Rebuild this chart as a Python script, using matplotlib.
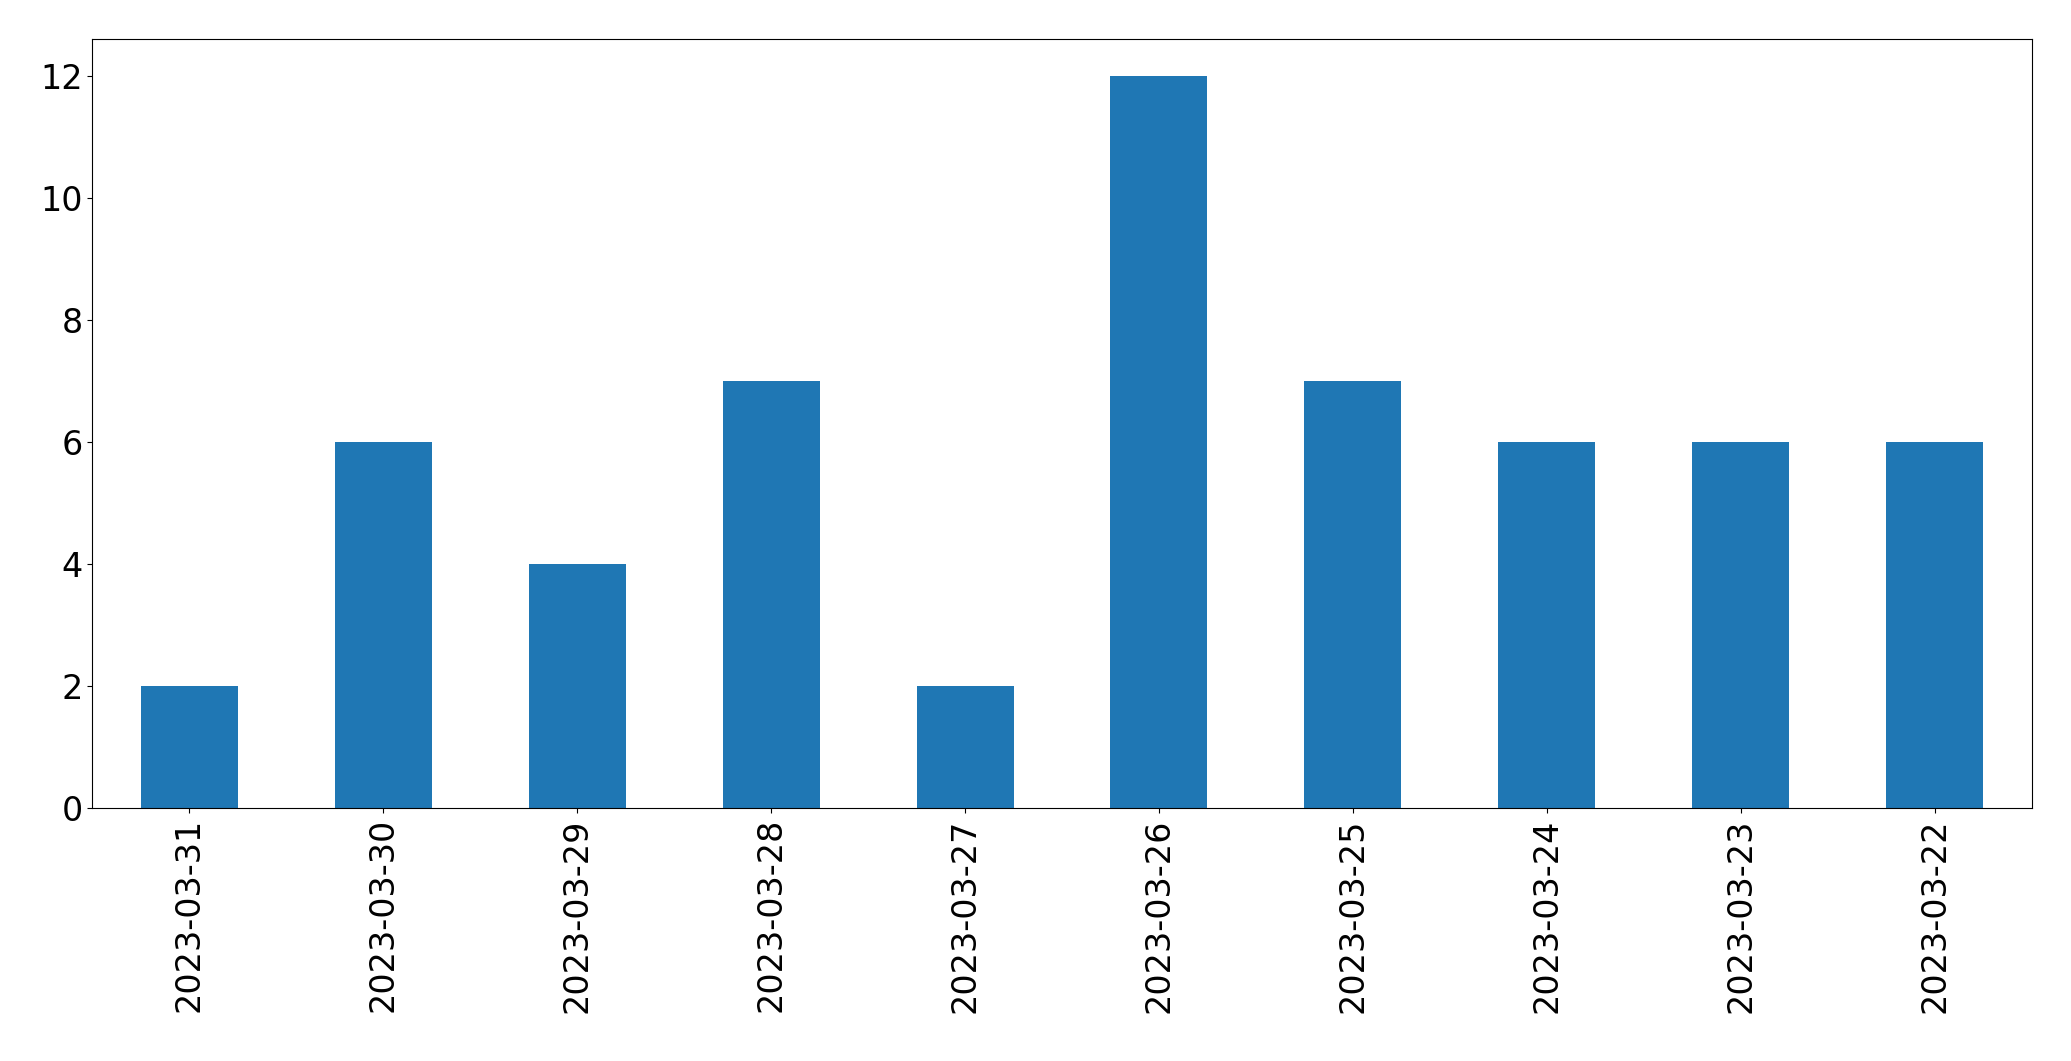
import matplotlib
matplotlib.use("Agg")
import matplotlib.pyplot as plt

dates = ["2023-03-31","2023-03-30","2023-03-29","2023-03-28","2023-03-27",
         "2023-03-26","2023-03-25","2023-03-24","2023-03-23","2023-03-22"]
counts = [2, 6, 4, 7, 2, 12, 7, 6, 6, 6]

fig = plt.figure(figsize=(20.71, 10.61), dpi=100)
ax = fig.add_axes([0.0446, 0.238, 0.9364, 0.725])
x = range(len(dates))
ax.bar(x, counts, width=0.5, color="#1f77b4")
ax.set_xlim(-0.5, len(dates) - 0.5)
ax.set_ylim(0, 12.6)
ax.set_xticks(list(x))
ax.set_xticklabels(dates, rotation=90, fontsize=24)
ax.tick_params(axis="y", labelsize=24)
fig.savefig("out.png", dpi=100)
